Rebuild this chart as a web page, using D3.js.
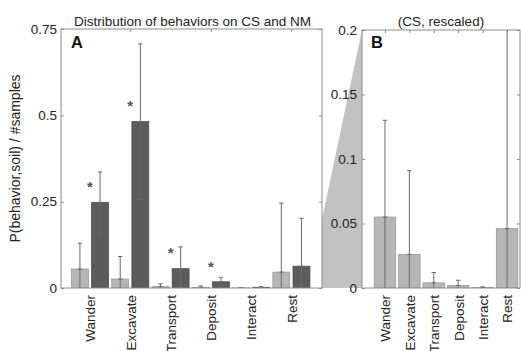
<!DOCTYPE html>
<html>
<head>
<meta charset="utf-8">
<script src="https://cdn.jsdelivr.net/npm/d3@7"></script>
<style>
  html, body { margin: 0; padding: 0; background: #fff; }
  svg { display: block; }
  text { font-family: "Liberation Sans", Arial, sans-serif; fill: #222; }
</style>
</head>
<body>
<script>
// ---- data ----
const categories = ["Wander", "Excavate", "Transport", "Deposit", "Interact", "Rest"];
const csValues   = [0.055, 0.026, 0.004, 0.002, 0.0003, 0.046];
const csErrors   = [0.075, 0.065, 0.008, 0.004, 0.0006, 0.200];
const nmValues   = [0.248, 0.482, 0.056, 0.018, 0.002, 0.063];
const nmErrors   = [0.088, 0.225, 0.063, 0.013, 0.002, 0.139];
const starLevels = [0.296, 0.530, 0.105, 0.065, null, null];
const yTicksA = [0, 0.25, 0.5, 0.75];
const yTicksB = [0, 0.05, 0.1, 0.15, 0.2];
const titleA = "Distribution of behaviors on CS and NM";
const titleB = "(CS, rescaled)";
const yLabel = "P(behavior,soil) / #samples";

const W = 521, H = 351;
const svg = d3.select("body").append("svg").attr("width", W).attr("height", H);
svg.append("rect").attr("width", W).attr("height", H).attr("fill", "#fff");

const A = {left: 61, right: 322, top: 29, bottom: 288};
const B = {left: 362, right: 520, top: 30, bottom: 288};

const xA = d3.scaleLinear().domain([0.28, 6.76]).range([A.left, A.right]);
const yA = d3.scaleLinear().domain([0, 0.75]).range([A.bottom, A.top]);
const xB = d3.scaleLinear().domain([0.06, 6.53]).range([B.left, B.right]);
const yB = d3.scaleLinear().domain([0, 0.2]).range([B.bottom, B.top]);

const idx = categories.map((c, i) => i + 1);
const lightFill = "#b6b6b6", lightStroke = "#9a9a9a";
const darkFill = "#5c5c5c", darkStroke = "#4e4e4e";
const axisColor = "#8c8c8c";
const errColor = "#6a6a6a";

// ---- zoom wedge (behind panel B) ----
svg.append("path")
  .attr("d", d3.line()([
    [A.right, yA(0.2)], [B.left, yB(0.2)], [B.left, B.bottom], [A.right, A.bottom]
  ]))
  .attr("fill", "#c2c2c2").attr("stroke", "none");

// clip paths
const defs = svg.append("defs");
defs.append("clipPath").attr("id", "clipA").append("rect")
  .attr("x", A.left).attr("y", A.top).attr("width", A.right - A.left).attr("height", A.bottom - A.top);
defs.append("clipPath").attr("id", "clipB").append("rect")
  .attr("x", B.left).attr("y", B.top).attr("width", B.right - B.left).attr("height", B.bottom - B.top);

// panel B background
svg.append("rect").attr("x", B.left).attr("y", B.top)
  .attr("width", B.right - B.left).attr("height", B.bottom - B.top).attr("fill", "#fff");

function errorBars(g, x, y, vals, errs, off) {
  const cap = 2.2;
  vals.forEach((v, i) => {
    const cx = x(idx[i] + off);
    const top = y(v + errs[i]);
    const bot = y(Math.max(0, v - errs[i]));
    g.append("line").attr("x1", cx).attr("x2", cx).attr("y1", top).attr("y2", bot)
      .attr("stroke", errColor).attr("stroke-width", 1);
    g.append("line").attr("x1", cx - cap).attr("x2", cx + cap).attr("y1", top).attr("y2", top)
      .attr("stroke", errColor).attr("stroke-width", 1);
    if (v - errs[i] > 0) {
      g.append("line").attr("x1", cx - cap).attr("x2", cx + cap).attr("y1", bot).attr("y2", bot)
        .attr("stroke", errColor).attr("stroke-width", 1);
    }
    g.append("line").attr("x1", cx - cap).attr("x2", cx + cap).attr("y1", y(v)).attr("y2", y(v))
      .attr("stroke", errColor).attr("stroke-width", 1);
  });
}

// ---- panel A ----
const gA = svg.append("g");
const barsA = gA.append("g").attr("clip-path", "url(#clipA)");
const off = 0.25, bw = 0.42;
barsA.selectAll("rect.cs").data(csValues).join("rect").attr("class", "cs")
  .attr("x", (d, i) => xA(idx[i] - off - bw / 2))
  .attr("width", (d, i) => xA(idx[i] - off + bw / 2) - xA(idx[i] - off - bw / 2))
  .attr("y", d => yA(d)).attr("height", d => yA(0) - yA(d))
  .attr("fill", lightFill).attr("stroke", lightStroke).attr("stroke-width", 0.8);
barsA.selectAll("rect.nm").data(nmValues).join("rect").attr("class", "nm")
  .attr("x", (d, i) => xA(idx[i] + off - bw / 2))
  .attr("width", (d, i) => xA(idx[i] + off + bw / 2) - xA(idx[i] + off - bw / 2))
  .attr("y", d => yA(d)).attr("height", d => yA(0) - yA(d))
  .attr("fill", darkFill).attr("stroke", darkStroke).attr("stroke-width", 0.8);
errorBars(barsA, xA, yA, csValues, csErrors, -off);
errorBars(barsA, xA, yA, nmValues, nmErrors, off);

// stars
gA.selectAll("text.star").data(starLevels.map((s, i) => [s, i]).filter(d => d[0] !== null))
  .join("text").attr("class", "star")
  .attr("x", d => xA(idx[d[1]])).attr("y", d => yA(d[0]) + 6)
  .attr("text-anchor", "middle").style("font-size", "15px").style("font-weight", "bold").style("fill", "#555")
  .text("*");

// frame A
gA.append("rect").attr("x", A.left).attr("y", A.top)
  .attr("width", A.right - A.left).attr("height", A.bottom - A.top)
  .attr("fill", "none").attr("stroke", axisColor).attr("stroke-width", 1);

// axes A
const yAxA = gA.append("g").attr("transform", `translate(${A.left},0)`)
  .call(d3.axisLeft(yA).tickValues(yTicksA).tickFormat(d => String(d)).tickSizeInner(-3).tickSizeOuter(0).tickPadding(4));
const yAxAr = gA.append("g").attr("transform", `translate(${A.right},0)`)
  .call(d3.axisRight(yA).tickValues(yTicksA).tickFormat("").tickSizeInner(-3).tickSizeOuter(0));
const xAxAt = gA.append("g").attr("transform", `translate(0,${A.top})`)
  .call(d3.axisTop(xA).tickValues([2, 4, 6]).tickFormat("").tickSizeInner(-3).tickSizeOuter(0));
const xAxA = gA.append("g").attr("transform", `translate(0,${A.bottom})`)
  .call(d3.axisBottom(xA).tickValues(idx).tickFormat(d => categories[d - 1]).tickSizeInner(0).tickSizeOuter(0).tickPadding(0));

// ---- panel B ----
const gB = svg.append("g");
const barsB = gB.append("g").attr("clip-path", "url(#clipB)");
const bwB = 0.88;
barsB.selectAll("rect.cs").data(csValues).join("rect").attr("class", "cs")
  .attr("x", (d, i) => xB(idx[i] - bwB / 2))
  .attr("width", (d, i) => xB(idx[i] + bwB / 2) - xB(idx[i] - bwB / 2))
  .attr("y", d => yB(d)).attr("height", d => yB(0) - yB(d))
  .attr("fill", lightFill).attr("stroke", lightStroke).attr("stroke-width", 0.8);
errorBars(barsB, xB, yB, csValues, csErrors, 0);

gB.append("rect").attr("x", B.left).attr("y", B.top)
  .attr("width", B.right - B.left).attr("height", B.bottom - B.top)
  .attr("fill", "none").attr("stroke", axisColor).attr("stroke-width", 1);

const yAxB = gB.append("g").attr("transform", `translate(${B.left},0)`)
  .call(d3.axisLeft(yB).tickValues(yTicksB).tickFormat(d => String(d)).tickSizeInner(-3).tickSizeOuter(0).tickPadding(5));
const yAxBr = gB.append("g").attr("transform", `translate(${B.right},0)`)
  .call(d3.axisRight(yB).tickValues(yTicksB).tickFormat("").tickSizeInner(-3).tickSizeOuter(0));
const xAxBt = gB.append("g").attr("transform", `translate(0,${B.top})`)
  .call(d3.axisTop(xB).tickValues(idx).tickFormat("").tickSizeInner(-3).tickSizeOuter(0));
const xAxB = gB.append("g").attr("transform", `translate(0,${B.bottom})`)
  .call(d3.axisBottom(xB).tickValues(idx).tickFormat(d => categories[d - 1]).tickSizeInner(0).tickSizeOuter(0).tickPadding(0));

// style axes
[yAxA, yAxAr, xAxAt, xAxA, yAxB, yAxBr, xAxBt, xAxB].forEach(g => {
  g.select(".domain").remove();
  g.selectAll(".tick line").attr("stroke", axisColor);
  g.selectAll("text").attr("font-family", null).attr("font-size", null)
    .style("font-size", "13.5px").style("fill", "#222");
});
[xAxA, xAxB].forEach(g => {
  g.selectAll(".tick text")
    .attr("text-anchor", "end")
    .attr("transform", "rotate(-90)")
    .attr("x", -7).attr("y", 0).attr("dy", "0.36em");
});

// panel letters
svg.append("text").attr("x", 71).attr("y", 48).style("font-size", "16.5px").style("font-weight", "bold").style("fill", "#111").text("A");
svg.append("text").attr("x", 371).attr("y", 48).style("font-size", "16.5px").style("font-weight", "bold").style("fill", "#111").text("B");

// titles
svg.append("text").attr("x", (A.left + A.right) / 2 + 1).attr("y", 26).attr("text-anchor", "middle")
  .style("font-size", "13.5px").text(titleA);
svg.append("text").attr("x", (B.left + B.right) / 2).attr("y", 26).attr("text-anchor", "middle")
  .style("font-size", "13.5px").text(titleB);

// y label
svg.append("text").attr("transform", `translate(20,${(A.top + A.bottom) / 2}) rotate(-90)`)
  .attr("text-anchor", "middle").style("font-size", "14px").text(yLabel);
</script>
</body>
</html>
